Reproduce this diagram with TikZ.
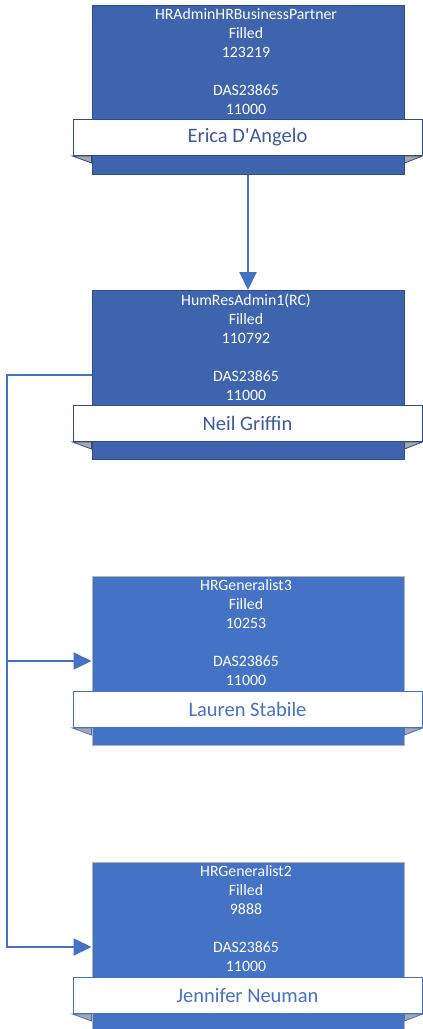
\documentclass[tikz,border=0pt]{standalone}
\usepackage{fontspec}
\setmainfont{Carlito}
\usetikzlibrary{arrows.meta,calc}
\definecolor{darkfill}{HTML}{3E64AD}
\definecolor{darkline}{HTML}{2E4C85}
\definecolor{darkname}{HTML}{3B5A9B}
\definecolor{lightfill}{HTML}{4472C4}
\definecolor{lightline}{HTML}{B4B4B4}
\definecolor{conncol}{HTML}{4472C4}
\definecolor{foldcol}{HTML}{A8A8A8}
\tikzset{
  posbox/.style={draw, line width=1pt, anchor=north, minimum width=312, minimum height=169, inner sep=0},
  darkbox/.style={posbox, fill=darkfill, draw=darkline},
  lightbox/.style={posbox, fill=lightfill, draw=lightline},
  infotext/.style={text=white, align=center, inner sep=0, font=\fontsize{15.8}{19}\selectfont},
  banner/.style={draw, line width=1pt, fill=white, anchor=north, minimum width=349, minimum height=36, inner sep=0, font=\fontsize{20.5}{24}\selectfont},
  darkbanner/.style={banner, draw=darkline, text=darkname},
  lightbanner/.style={banner, draw=lightfill, text=lightfill},
  foldl/.style={fill=foldcol, draw=darkline, line width=0.8pt},
  conn/.style={draw=conncol, line width=2pt},
  tip/.style={-{Triangle[length=18pt,width=17pt]}}
}
\begin{document}
\begin{tikzpicture}[x=1pt,y=-1pt]
\clip (0,0) rectangle (423,1029);
\fill[white] (0,0) rectangle (423,1029);
% boxes
\node[darkbox] (b1) at (248,5) {};
\node[darkbox] (b2) at (248,290) {};
\node[lightbox] (b3) at (248,576) {};
\node[lightbox] (b4) at (248,862) {};
% info texts
\node[infotext] (t1) at (246,62) {HRAdminHRBusinessPartner\\Filled\\123219\\[19pt]DAS23865\\11000};
\node[infotext] (t2) at (246,347) {HumResAdmin1(RC)\\Filled\\110792\\[19pt]DAS23865\\11000};
\node[infotext] (t3) at (246,633) {HRGeneralist3\\Filled\\10253\\[19pt]DAS23865\\11000};
\node[infotext] (t4) at (246,919) {HRGeneralist2\\Filled\\9888\\[19pt]DAS23865\\11000};
% banners
\node[darkbanner] (n1) at (247.5,119) {Erica D\textquotesingle Angelo};
\node[darkbanner] (n2) at (247.5,405) {Neil Griffin};
\node[lightbanner] (n3) at (247.5,691) {Lauren Stabile};
\node[lightbanner] (n4) at (247.5,977) {Jennifer Neuman};
% folds
\foreach \n/\c in {n1/darkline,n2/darkline,n3/lightfill,n4/lightfill}{
  \draw[foldl, draw=\c] (\n.south west) -- ++(19,0) -- ++(0,7) -- cycle;
  \draw[foldl, draw=\c] (\n.south east) -- ++(-18,0) -- ++(0,7) -- cycle;
}
% connectors
\coordinate (trunk) at (7,0);
\draw[conn, tip] (b1.south) -- (b2.north);
\draw[conn, tip] (b2.west) -| (trunk |- b4.west) -- (b4.west);
\draw[conn, tip] (trunk |- b3.west) -- (b3.west);
\end{tikzpicture}
\end{document}
